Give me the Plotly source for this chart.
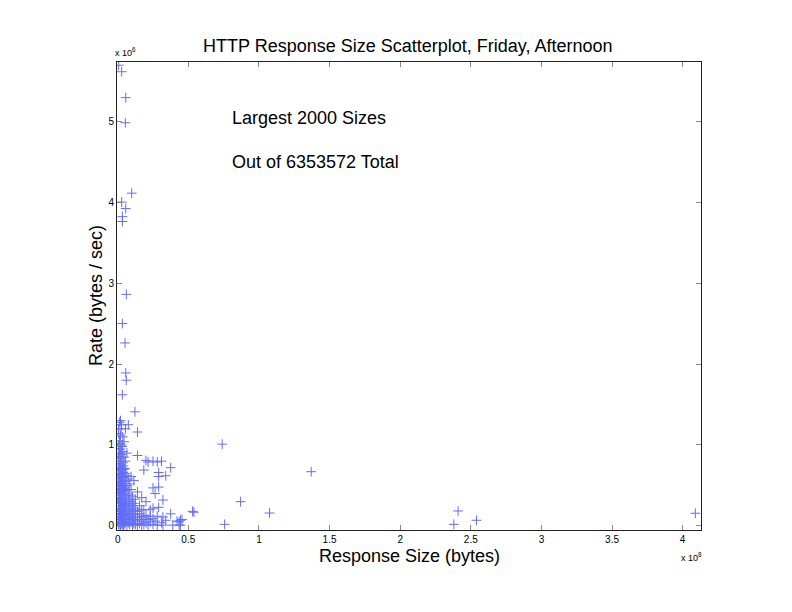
import plotly.graph_objects as go

# ---- data (response size in units of 1e8 bytes, rate in units of 1e6 bytes/sec) ----
size_e8 = [
    # outliers (high rate)
    0.007, 0.028, 0.057, 0.054, 0.099, 0.028, 0.057, 0.033, 0.033, 0.061, 0.033, 0.052,
    0.057, 0.061, 0.033, 0.122,
    # outliers (large size)
    0.74, 1.37, 0.87, 1.075, 0.757, 2.41, 2.38, 2.54, 4.09,
    # dense cluster near origin
    0.005, 0.005, 0.005, 0.005, 0.005, 0.005, 0.005, 0.005, 0.005, 0.005, 0.005,
    0.008, 0.008, 0.008, 0.008, 0.008, 0.008, 0.008, 0.008,
    0.012, 0.012, 0.012, 0.012, 0.012, 0.012, 0.012, 0.012, 0.012, 0.012, 0.012,
    0.016, 0.016, 0.016, 0.016, 0.016, 0.016, 0.016, 0.016,
    0.020, 0.020, 0.020, 0.020, 0.020, 0.020, 0.020, 0.020, 0.020, 0.020, 0.020, 0.020,
    0.024, 0.024, 0.024, 0.024, 0.024, 0.024, 0.024, 0.024,
    0.028, 0.028, 0.028, 0.028, 0.028, 0.028, 0.028, 0.028, 0.028, 0.028, 0.028,
    0.032, 0.032, 0.032, 0.032, 0.032, 0.032, 0.032,
    0.036, 0.036, 0.036, 0.036, 0.036, 0.036, 0.036, 0.036, 0.036, 0.036,
    0.040, 0.040, 0.040, 0.040, 0.040, 0.040,
    0.045, 0.045, 0.045, 0.045, 0.045, 0.045, 0.045, 0.045, 0.045, 0.045,
    0.050, 0.050, 0.050, 0.050, 0.050,
    0.055, 0.055, 0.055, 0.055, 0.055, 0.055, 0.055, 0.055, 0.055,
    0.065, 0.065, 0.065, 0.065, 0.065, 0.065, 0.065, 0.065,
    0.075, 0.075, 0.075, 0.075, 0.075, 0.075, 0.075,
    0.085, 0.085, 0.085, 0.085, 0.085, 0.085,
    0.095, 0.095, 0.095, 0.095, 0.095, 0.095,
    0.105, 0.105, 0.105, 0.105, 0.105,
    0.115, 0.115, 0.115, 0.115, 0.115,
    0.125, 0.125, 0.125, 0.125, 0.125,
    0.140, 0.140, 0.140, 0.140, 0.140, 0.140, 0.140,
    0.155, 0.155, 0.155, 0.155,
    0.170, 0.170, 0.170, 0.170, 0.170,
    0.185, 0.185, 0.185, 0.185,
    0.200, 0.200, 0.200, 0.200,
    0.215, 0.215, 0.215,
    0.230, 0.230, 0.230,
    0.250, 0.250, 0.250, 0.250, 0.250,
    0.265, 0.265,
    0.280, 0.280, 0.280,
    0.290, 0.290, 0.290, 0.290,
    0.310, 0.310,
    0.320, 0.320, 0.320,
    0.340, 0.340,
    0.375, 0.375,
    0.390, 0.420, 0.435, 0.435, 0.445, 0.445, 0.455, 0.540, 0.530,
]

rate_e6 = [
    5.69, 5.61, 5.29, 4.98, 4.11, 4.00, 3.92, 3.82, 3.76, 2.86, 2.50, 2.26,
    1.89, 1.80, 1.62, 1.41,
    1.01, 0.67, 0.30, 0.16, 0.02, 0.185, 0.02, 0.07, 0.157,
    0.02, 0.10, 0.20, 0.30, 0.40, 0.50, 0.60, 0.70, 0.85, 1.00, 1.20,
    0.04, 0.14, 0.33, 0.46, 0.63, 0.77, 0.95, 1.14,
    0.05, 0.15, 0.25, 0.35, 0.45, 0.55, 0.65, 0.75, 0.90, 1.05, 1.28,
    0.01, 0.11, 0.21, 0.41, 0.52, 0.71, 0.86, 1.02,
    0.00, 0.08, 0.18, 0.28, 0.38, 0.48, 0.58, 0.68, 0.80, 0.95, 1.12, 1.30,
    0.06, 0.15, 0.34, 0.44, 0.54, 0.64, 0.83, 1.20,
    0.03, 0.12, 0.22, 0.32, 0.42, 0.52, 0.62, 0.72, 0.88, 1.00, 1.25,
    0.02, 0.09, 0.19, 0.29, 0.49, 0.69, 0.98,
    0.06, 0.16, 0.26, 0.36, 0.46, 0.56, 0.66, 0.78, 0.92, 1.10,
    0.01, 0.13, 0.24, 0.43, 0.61, 0.74,
    0.02, 0.10, 0.20, 0.30, 0.40, 0.50, 0.60, 0.70, 0.85, 1.04,
    0.03, 0.17, 0.27, 0.47, 0.71,
    0.05, 0.14, 0.24, 0.34, 0.44, 0.55, 0.65, 0.80, 1.20,
    0.01, 0.09, 0.18, 0.28, 0.38, 0.50, 0.62, 0.90,
    0.04, 0.12, 0.22, 0.32, 0.45, 0.58, 1.25,
    0.02, 0.08, 0.16, 0.26, 0.38, 0.52,
    0.05, 0.12, 0.20, 0.30, 0.45, 0.61,
    0.01, 0.08, 0.15, 0.25, 0.36,
    0.03, 0.10, 0.19, 0.28, 0.56,
    0.02, 0.07, 0.14, 0.22, 0.33,
    0.01, 0.05, 0.11, 0.18, 0.42, 0.87, 1.16,
    0.03, 0.08, 0.15, 0.25,
    0.01, 0.06, 0.12, 0.20, 0.35,
    0.02, 0.10, 0.20, 0.69,
    0.04, 0.13, 0.30, 0.81,
    0.01, 0.08, 0.79,
    0.05, 0.12, 0.20,
    0.02, 0.09, 0.22, 0.47, 0.80,
    0.06, 0.40,
    0.01, 0.12, 0.79,
    0.23, 0.48, 0.61, 0.66,
    0.04, 0.80,
    0.11, 0.32, 0.01,
    0.07, 0.62,
    0.15, 0.72,
    0.01, 0.06, 0.05, 0.01, 0.07, 0.01, 0.08, 0.17, 0.18,
]

sizes = [v * 1e8 for v in size_e8]
rates = [v * 1e6 for v in rate_e6]

x_ticks = [0, 0.5e8, 1e8, 1.5e8, 2e8, 2.5e8, 3e8, 3.5e8, 4e8]
x_ticklabels = ["0", "0.5", "1", "1.5", "2", "2.5", "3", "3.5", "4"]
y_ticks = [0, 1e6, 2e6, 3e6, 4e6, 5e6]
y_ticklabels = ["0", "1", "2", "3", "4", "5"]

FONT = "Liberation Sans, Arial, Helvetica, sans-serif"

fig = go.Figure()
fig.add_trace(go.Scatter(
    x=sizes, y=rates, mode="markers",
    marker=dict(symbol="cross-thin-open", size=7,
                line=dict(color="rgba(0,0,255,0.75)", width=1)),
    hoverinfo="x+y", showlegend=False,
))

axis_common = dict(
    showgrid=False, zeroline=False, showline=True, linecolor="#222", linewidth=1,
    mirror="ticks", ticks="inside", ticklen=5, tickcolor="#888", tickwidth=1,
    tickfont=dict(family=FONT, size=10, color="black"),
)

fig.update_layout(
    width=792, height=612,
    margin=dict(l=117, r=91, t=62, b=82),
    paper_bgcolor="white", plot_bgcolor="white",
    font=dict(family=FONT, color="black"),
    xaxis=dict(range=[-0.005e8, 4.13e8], tickvals=x_ticks, ticktext=x_ticklabels,
               **axis_common),
    yaxis=dict(range=[-0.05e6, 5.73e6], tickvals=y_ticks, ticktext=y_ticklabels,
               **axis_common),
)

ann = [
    dict(text="HTTP Response Size Scatterplot, Friday, Afternoon", x=0.498, y=1.034,
         xanchor="center", yanchor="middle", font=dict(size=18)),
    dict(text="Response Size (bytes)", x=0.50, y=-0.0556,
         xanchor="center", yanchor="middle", font=dict(size=18)),
    dict(text="Rate (bytes / sec)", x=-0.036, y=0.502, textangle=-90,
         xanchor="center", yanchor="middle", font=dict(size=18)),
    dict(text="Largest 2000 Sizes", x=0.1935, y=0.880,
         xanchor="left", yanchor="middle", font=dict(size=18)),
    dict(text="Out of 6353572 Total", x=0.1935, y=0.786,
         xanchor="left", yanchor="middle", font=dict(size=18)),
    dict(text="x 10<sup>6</sup>", x=-0.007, y=1.021,
         xanchor="left", yanchor="middle", font=dict(size=9)),
    dict(text="x 10<sup>8</sup>", x=0.962, y=-0.058,
         xanchor="left", yanchor="middle", font=dict(size=9)),
]
for a in ann:
    fig.add_annotation(xref="paper", yref="paper", showarrow=False, **a)

fig.write_html("out.html")
